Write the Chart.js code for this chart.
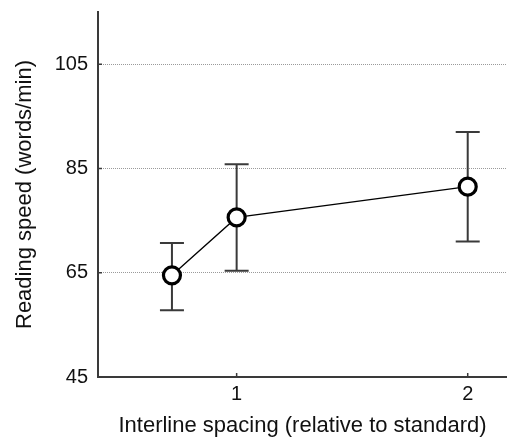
<!DOCTYPE html>
<html>
<head>
<meta charset="utf-8">
<script src="https://cdn.jsdelivr.net/npm/chart.js@4"></script>
<style>
  html, body { margin: 0; padding: 0; background: #fff; }
  #wrap { width: 507px; height: 439px; }
</style>
</head>
<body>
<div id="wrap"><canvas id="speedChart"></canvas></div>
<script>
// values
const spacing = [0.72, 1, 2];
const speed = [64.5, 75.6, 81.5];
const errLow = [57.8, 65.4, 71];
const errHigh = [70.7, 85.8, 92];
const xTicks = [1, 2];
const yTicks = [45, 65, 85, 105];

const FONT = "'Liberation Sans', Arial, Helvetica, sans-serif";

// error bars under the markers
const errorBars = {
    id: 'errorBars',
    beforeDatasetsDraw(chart) {
        const ctx = chart.ctx;
        const xs = chart.scales.x, ys = chart.scales.y;
        ctx.save();
        ctx.strokeStyle = '#3a3a3a';
        ctx.lineWidth = 2;
        for (let i = 0; i < spacing.length; i++) {
            const px = xs.getPixelForValue(spacing[i]);
            const lo = ys.getPixelForValue(errLow[i]);
            const hi = ys.getPixelForValue(errHigh[i]);
            ctx.beginPath();
            ctx.moveTo(px, lo); ctx.lineTo(px, hi);
            ctx.moveTo(px - 12, lo); ctx.lineTo(px + 12, lo);
            ctx.moveTo(px - 12, hi); ctx.lineTo(px + 12, hi);
            ctx.stroke();
        }
        ctx.restore();
    }
};

// short ticks pointing into the plot
const innerTicks = {
    id: 'innerTicks',
    afterDraw(chart) {
        const ctx = chart.ctx;
        const xs = chart.scales.x, ys = chart.scales.y;
        const area = chart.chartArea;
        ctx.save();
        ctx.strokeStyle = '#3a3a3a';
        ctx.lineWidth = 1.5;
        ctx.beginPath();
        xTicks.forEach(v => {
            const px = xs.getPixelForValue(v);
            ctx.moveTo(px, area.bottom); ctx.lineTo(px, area.bottom - 4);
        });
        yTicks.forEach(v => {
            const py = ys.getPixelForValue(v);
            ctx.moveTo(area.left, py); ctx.lineTo(area.left + 4, py);
        });
        ctx.stroke();
        ctx.restore();
    }
};

const ctx = document.getElementById('speedChart').getContext('2d');
new Chart(ctx, {
    type: 'line',
    data: {
        datasets: [{
            data: spacing.map((x, i) => ({ x: x, y: speed[i] })),
            borderColor: '#000',
            borderWidth: 1.3,
            pointRadius: 8.5,
            pointHoverRadius: 8.5,
            pointBorderWidth: 3.2,
            pointBackgroundColor: '#fff',
            pointBorderColor: '#000',
            tension: 0
        }]
    },
    options: {
        responsive: true,
        maintainAspectRatio: false,
        animation: false,
        layout: { autoPadding: false, padding: { top: 12, right: 0, bottom: 0, left: 0 } },
        plugins: {
            legend: { display: false },
            tooltip: { enabled: false }
        },
        scales: {
            x: {
                type: 'linear',
                min: 0.4,
                max: 2.17,
                afterBuildTicks: s => { s.ticks = xTicks.map(v => ({ value: v })); },
                afterFit: s => { s.height = 62; s.paddingLeft = 0; s.paddingRight = 0; },
                grid: { display: true, drawOnChartArea: false, drawTicks: false },
                border: { display: true, color: '#3a3a3a', width: 2 },
                ticks: {
                    padding: 5,
                    color: '#111',
                    font: { family: FONT, size: 20 },
                    maxRotation: 0
                },
                title: {
                    display: true,
                    text: 'Interline spacing (relative to standard)',
                    color: '#111',
                    font: { family: FONT, size: 22 },
                    padding: { top: 0, bottom: 0 }
                }
            },
            y: {
                min: 45,
                max: 115,
                afterBuildTicks: s => { s.ticks = yTicks.map(v => ({ value: v })); },
                afterFit: s => { s.width = 98; s.paddingTop = 0; s.paddingBottom = 0; },
                grid: {
                    drawTicks: false,
                    color: c => (c.tick && c.tick.value === 45) ? 'rgba(0,0,0,0)' : '#9a9a9a',
                    lineWidth: 1
                },
                border: { display: true, color: '#3a3a3a', width: 2, dash: [1, 1] },
                ticks: {
                    padding: 10,
                    color: '#111',
                    font: { family: FONT, size: 20 }
                },
                title: {
                    display: true,
                    text: 'Reading speed (words/min)',
                    color: '#111',
                    font: { family: FONT, size: 22 },
                    padding: { top: 12, bottom: 0 }
                }
            }
        }
    },
    plugins: [errorBars, innerTicks]
});
</script>
</body>
</html>
